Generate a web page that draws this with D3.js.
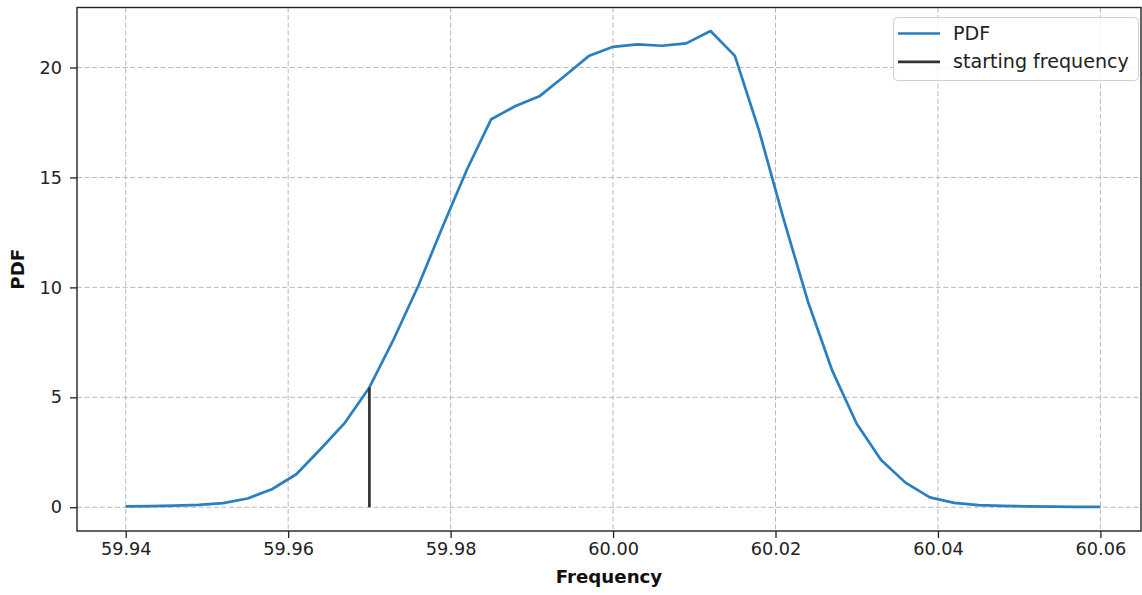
<!DOCTYPE html>
<html>
<head>
<meta charset="utf-8">
<script src="https://cdn.jsdelivr.net/npm/d3@7"></script>
<style>
  html, body { margin: 0; padding: 0; background: #fff; }
  svg { display: block; font-family: "DejaVu Sans", sans-serif; }
</style>
</head>
<body>
<svg id="chart" width="1142" height="595"></svg>
<script>
// ---- data ----
const frequency = [59.940, 59.943, 59.946, 59.949, 59.952, 59.955, 59.958, 59.961, 59.964, 59.967,
                   59.970, 59.973, 59.976, 59.979, 59.982, 59.985, 59.988, 59.991, 59.994, 59.997,
                   60.000, 60.003, 60.006, 60.009, 60.012, 60.015, 60.018, 60.021, 60.024, 60.027,
                   60.030, 60.033, 60.036, 60.039, 60.042, 60.045, 60.048, 60.051, 60.054, 60.057, 60.060];
const pdf = [0.04, 0.05, 0.07, 0.11, 0.19, 0.40, 0.82, 1.50, 2.65, 3.85,
             5.45, 7.65, 10.05, 12.75, 15.35, 17.65, 18.25, 18.71, 19.60, 20.52,
             20.94, 21.05, 20.99, 21.10, 21.66, 20.53, 17.10, 13.10, 9.35, 6.20,
             3.80, 2.15, 1.12, 0.45, 0.20, 0.10, 0.06, 0.04, 0.03, 0.02, 0.02];
const startFrequency = [59.970];
const startPdf = [5.45];
const xTicks = [59.94, 59.96, 59.98, 60.00, 60.02, 60.04, 60.06];
const yTicks = [0, 5, 10, 15, 20];
const legendLabels = ["PDF", "starting frequency"];

// ---- layout ----
const svg = d3.select("#chart");
const L = 77, R = 1141, T = 7.5, B = 531;
const x = d3.scaleLinear().domain([59.934, 60.065]).range([L, R]);
const y = d3.scaleLinear().domain([-1.08, 22.73]).range([B, T]);
const FS = 17.7;
const blue = "#2a7fbf", dark = "#333333";

// grid
const grid = svg.append("g");
grid.selectAll("line.gx").data(xTicks).enter().append("line")
  .attr("x1", d => x(d)).attr("x2", d => x(d)).attr("y1", T).attr("y2", B)
  .attr("stroke", "#b9b9b9").attr("stroke-width", 1).attr("stroke-dasharray", "5,2.6");
grid.selectAll("line.gy").data(yTicks).enter().append("line")
  .attr("x1", L).attr("x2", R).attr("y1", d => y(d)).attr("y2", d => y(d))
  .attr("stroke", "#b9b9b9").attr("stroke-width", 1).attr("stroke-dasharray", "5,2.6");

// PDF line
const line = d3.line().x((d, i) => x(frequency[i])).y(d => y(d));
svg.append("path").datum(pdf)
  .attr("d", line).attr("fill", "none").attr("stroke", blue)
  .attr("stroke-width", 2.7).attr("stroke-linejoin", "round").attr("stroke-linecap", "butt");

// starting frequency vertical line
svg.selectAll("line.start").data(startFrequency).enter().append("line")
  .attr("x1", d => x(d)).attr("x2", d => x(d))
  .attr("y1", y(0)).attr("y2", (d, i) => y(startPdf[i]))
  .attr("stroke", dark).attr("stroke-width", 2.7);

// axes
const xAxis = d3.axisBottom(x).tickValues(xTicks).tickFormat(d3.format(".2f")).tickSize(7).tickPadding(4);
const yAxis = d3.axisLeft(y).tickValues(yTicks).tickFormat(d3.format("d")).tickSize(7).tickPadding(8);
const gx = svg.append("g").attr("transform", `translate(0,${B})`).call(xAxis);
const gy = svg.append("g").attr("transform", `translate(${L},0)`).call(yAxis);
[gx, gy].forEach(g => {
  g.select(".domain").remove();
  g.selectAll(".tick line").attr("stroke", "#222").attr("stroke-width", 1.3);
  g.selectAll(".tick text").attr("fill", "#222").style("font-size", FS + "px")
    .style("font-family", "'DejaVu Sans', sans-serif");
});

// frame
svg.append("rect").attr("x", L).attr("y", T).attr("width", R - L).attr("height", B - T)
  .attr("fill", "none").attr("stroke", "#222").attr("stroke-width", 1.4);

// axis labels
svg.append("text").attr("x", (L + R) / 2).attr("y", 583)
  .attr("text-anchor", "middle").style("font-size", "18.2px").style("font-weight", "bold")
  .attr("fill", "#111").text("Frequency");
svg.append("text").attr("transform", `translate(24,${(T + B) / 2}) rotate(-90)`)
  .attr("text-anchor", "middle").style("font-size", "18.2px").style("font-weight", "bold")
  .attr("fill", "#111").text("PDF");

// legend
const lg = svg.append("g");
lg.append("rect").attr("x", 893.5).attr("y", 17.5).attr("width", 245).attr("height", 63)
  .attr("rx", 4).attr("fill", "rgba(255,255,255,0.85)").attr("stroke", "#d0d0d0").attr("stroke-width", 1);
const colors = [blue, dark];
legendLabels.forEach((lab, i) => {
  const yy = 33.5 + i * 28.3;
  lg.append("line").attr("x1", 898).attr("x2", 940).attr("y1", yy).attr("y2", yy)
    .attr("stroke", colors[i]).attr("stroke-width", 2.7);
  lg.append("text").attr("x", 953).attr("y", yy).attr("dy", "0.35em")
    .style("font-size", "19.1px").attr("fill", "#222").text(lab);
});
</script>
</body>
</html>
